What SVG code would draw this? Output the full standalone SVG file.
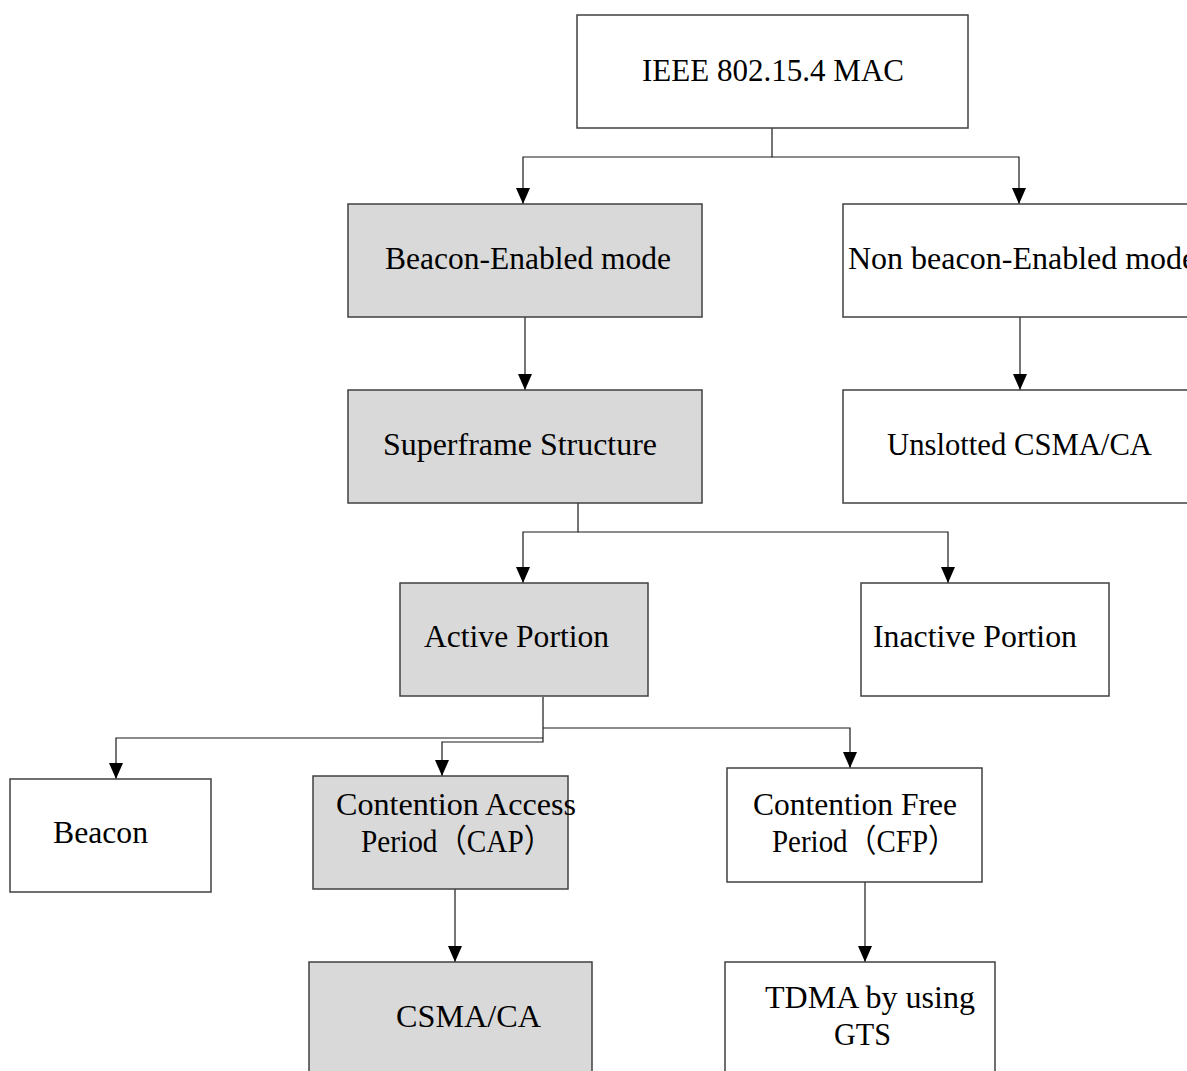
<svg xmlns="http://www.w3.org/2000/svg" width="1187" height="1071" viewBox="0 0 1187 1071">
  <defs>
    <marker id="arrow" markerUnits="userSpaceOnUse" markerWidth="16" markerHeight="14" refX="16" refY="7" orient="auto">
      <path d="M0,0 L16,7 L0,14 z" fill="#000"/>
    </marker>
    <style>
      .box { stroke: #404040; stroke-width: 1.5; fill: #fff; }
      .box.shade { fill: #d9d9d9; }
      .lbl { font-family: "Liberation Serif", "Noto Sans CJK SC", serif; font-size: 32px; fill: #000; }
      .link { fill: none; stroke: #1a1a1a; stroke-width: 1.2; }
    </style>
  </defs>
  <rect width="1187" height="1071" fill="#fff"/>

  <g id="connectors">
    <path class="link" d="M772,128 V157 H523 V204" marker-end="url(#arrow)"/>
    <path class="link" d="M772,157 H1019 V204" marker-end="url(#arrow)"/>
    <path class="link" d="M525,317 V390" marker-end="url(#arrow)"/>
    <path class="link" d="M1020,317 V390" marker-end="url(#arrow)"/>
    <path class="link" d="M578,503 V532 H523 V583" marker-end="url(#arrow)"/>
    <path class="link" d="M578,532 H948 V583" marker-end="url(#arrow)"/>
    <path class="link" d="M543,697 V742 H442 V776" marker-end="url(#arrow)"/>
    <path class="link" d="M543,738 H116 V779" marker-end="url(#arrow)"/>
    <path class="link" d="M543,728 H850 V768" marker-end="url(#arrow)"/>
    <path class="link" d="M455,889 V962" marker-end="url(#arrow)"/>
    <path class="link" d="M865,882 V962" marker-end="url(#arrow)"/>
  </g>

  <g id="mac">
    <rect class="box" x="577" y="15" width="391" height="113"/>
    <text class="lbl" x="642" y="81" textLength="262" lengthAdjust="spacingAndGlyphs">IEEE 802.15.4 MAC</text>
  </g>
  <g id="beacon-mode">
    <rect class="box shade" x="348" y="204" width="354" height="113"/>
    <text class="lbl" x="385" y="269" textLength="286" lengthAdjust="spacingAndGlyphs">Beacon-Enabled mode</text>
  </g>
  <g id="nonbeacon-mode">
    <rect class="box" x="843" y="204" width="360" height="113"/>
    <text class="lbl" x="848" y="269">Non beacon-Enabled mode</text>
  </g>
  <g id="superframe">
    <rect class="box shade" x="348" y="390" width="354" height="113"/>
    <text class="lbl" x="383" y="455" textLength="274" lengthAdjust="spacingAndGlyphs">Superframe Structure</text>
  </g>
  <g id="unslotted">
    <rect class="box" x="843" y="390" width="360" height="113"/>
    <text class="lbl" x="887" y="455" textLength="265" lengthAdjust="spacingAndGlyphs">Unslotted CSMA/CA</text>
  </g>
  <g id="active">
    <rect class="box shade" x="400" y="583" width="248" height="113"/>
    <text class="lbl" x="424" y="647" textLength="185" lengthAdjust="spacingAndGlyphs">Active Portion</text>
  </g>
  <g id="inactive">
    <rect class="box" x="861" y="583" width="248" height="113"/>
    <text class="lbl" x="873" y="647" textLength="204" lengthAdjust="spacingAndGlyphs">Inactive Portion</text>
  </g>
  <g id="beacon">
    <rect class="box" x="10" y="779" width="201" height="113"/>
    <text class="lbl" x="53" y="843" textLength="95" lengthAdjust="spacingAndGlyphs">Beacon</text>
  </g>
  <g id="cap">
    <rect class="box shade" x="313" y="776" width="255" height="113"/>
    <text class="lbl" x="336" y="815" textLength="240" lengthAdjust="spacingAndGlyphs">Contention Access</text>
    <text class="lbl" x="361" y="852" textLength="192" lengthAdjust="spacingAndGlyphs">Period（CAP）</text>
  </g>
  <g id="cfp">
    <rect class="box" x="727" y="768" width="255" height="114"/>
    <text class="lbl" x="753" y="815" textLength="204" lengthAdjust="spacingAndGlyphs">Contention Free</text>
    <text class="lbl" x="772" y="852" textLength="185" lengthAdjust="spacingAndGlyphs">Period（CFP）</text>
  </g>
  <g id="csma">
    <rect class="box shade" x="309" y="962" width="283" height="120"/>
    <text class="lbl" x="396" y="1027" textLength="145" lengthAdjust="spacingAndGlyphs">CSMA/CA</text>
  </g>
  <g id="tdma">
    <rect class="box" x="725" y="962" width="270" height="120"/>
    <text class="lbl" x="765" y="1008" textLength="210" lengthAdjust="spacingAndGlyphs">TDMA by using</text>
    <text class="lbl" x="834" y="1045" textLength="57" lengthAdjust="spacingAndGlyphs">GTS</text>
  </g>
</svg>
